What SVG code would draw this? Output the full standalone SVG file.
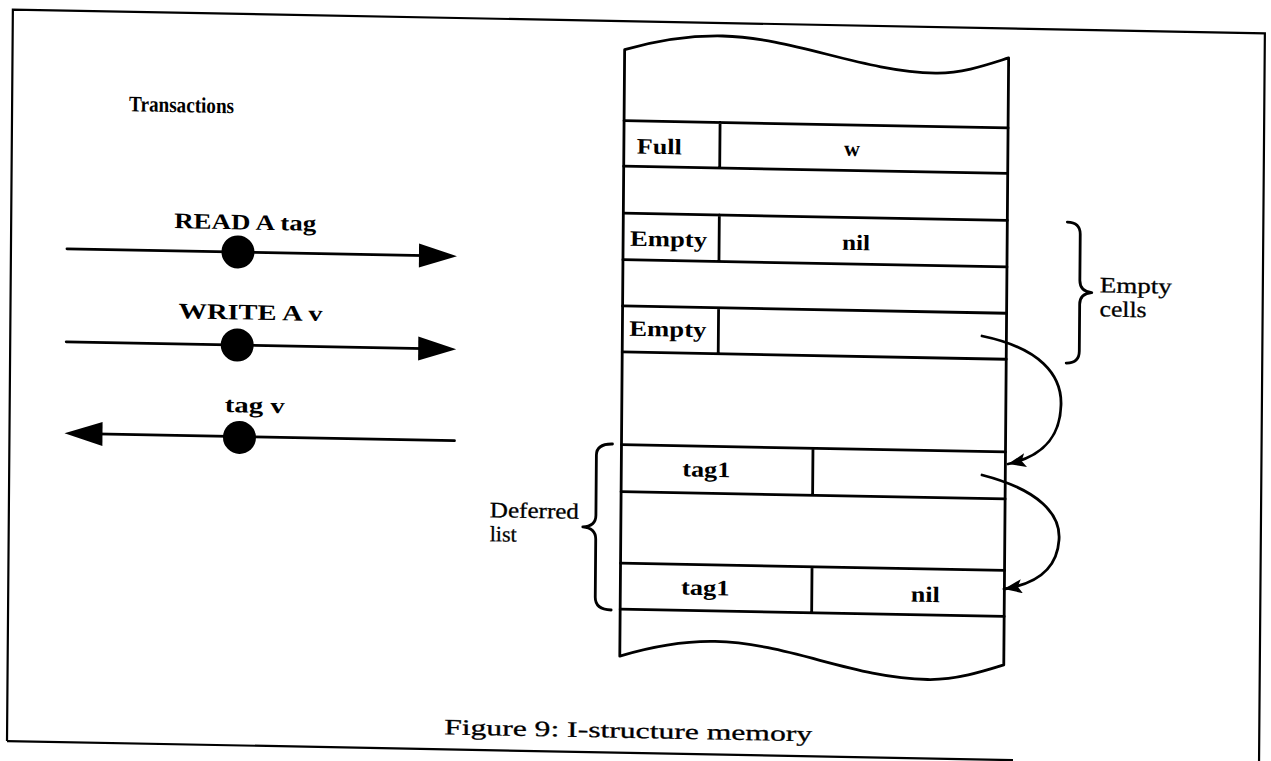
<svg xmlns="http://www.w3.org/2000/svg" width="1271" height="761" viewBox="0 0 1271 761">
<style>
.ln{stroke:#000;stroke-width:2.8;fill:none;stroke-linecap:round;stroke-linejoin:round}
.fr{stroke:#000;stroke-width:2.2;fill:none}
.tb{font-family:"Liberation Serif",serif;font-weight:bold;font-size:22px;fill:#000}
.tr{font-family:"Liberation Serif",serif;font-size:22px;fill:#000;stroke:#000;stroke-width:0.3}
.dot{fill:#000}
</style>
<defs>
<marker id="ah" markerUnits="userSpaceOnUse" markerWidth="20" markerHeight="16" refX="18" refY="7" orient="auto">
<path d="M0,0 L18,7 L0,14 L4,7 Z" fill="#000"/>
</marker>
</defs>
<rect width="1271" height="761" fill="#fff"/>
<g transform="translate(640 380) matrix(1 0.019 -0.008 1 0 0) translate(-640 -380)">
<g id="frame">
<path class="fr" d="M10,753 L10,21.5 L1262,21.5 L1262,780"/>
<path class="fr" d="M10,753 L1016,753"/>
</g>
<g id="title">
<text class="tb" x="127" y="121" font-size="17" textLength="105" lengthAdjust="spacingAndGlyphs">Transactions</text>
</g>
<g id="read">
<line class="ln" x1="66" y1="259.7" x2="425" y2="259.7"/>
<polygon points="418,247.7 456,259.7 418,271.7" fill="#000"/>
<circle class="dot" cx="237" cy="259.6" r="16.5"/>
<text class="tb" x="244" y="237" text-anchor="middle" textLength="142" lengthAdjust="spacingAndGlyphs">READ A tag</text>
</g>
<g id="write">
<line class="ln" x1="66" y1="352.7" x2="425" y2="352.7"/>
<polygon points="418,340.7 456,352.7 418,364.7" fill="#000"/>
<circle class="dot" cx="237" cy="352.7" r="16.5"/>
<text class="tb" x="250" y="327" text-anchor="middle" textLength="144" lengthAdjust="spacingAndGlyphs">WRITE A v</text>
</g>
<g id="reply">
<line class="ln" x1="96" y1="444.2" x2="455" y2="444.2"/>
<polygon points="103,432.2 65,444.2 103,456.2" fill="#000"/>
<circle class="dot" cx="240" cy="445" r="16.5"/>
<text class="tb" x="255" y="420" text-anchor="middle" textLength="60" lengthAdjust="spacingAndGlyphs">tag v</text>
</g>
<g id="memory">
<path class="ln" d="M622,656.5 L622,50 C655,40 690,34.5 720,34.5 C790,34.5 860,67.5 933,67.5 C960,67.5 985,58 1006,51 L1006,658 C985,665 958,674 930,674 C855,674 790,640 717,640 C685,640 655,646 622,656.5"/>
</g>
<g id="cell-full">
<path class="ln" d="M622,121 H1006 M622,166.5 H1006 M718,121 V166.5"/>
<text class="tb" x="635" y="153.6" textLength="45" lengthAdjust="spacingAndGlyphs">Full</text>
<text class="tb" x="850" y="152" text-anchor="middle">w</text>
</g>
<g id="cell-empty1">
<path class="ln" d="M622,213.5 H1006 M622,260 H1006 M718,213.5 V260"/>
<text class="tb" x="629" y="246" textLength="77" lengthAdjust="spacingAndGlyphs">Empty</text>
<text class="tb" x="855" y="246" text-anchor="middle" textLength="28" lengthAdjust="spacingAndGlyphs">nil</text>
</g>
<g id="cell-empty2">
<path class="ln" d="M622,306.3 H1006 M622,352.3 H1006 M718,306.3 V352.3"/>
<text class="tb" x="629" y="336" textLength="77" lengthAdjust="spacingAndGlyphs">Empty</text>
</g>
<g id="cell-tag1a">
<path class="ln" d="M622,445 H1006 M622,492 H1006 M813.5,445 V492"/>
<text class="tb" x="707" y="475.5" text-anchor="middle" textLength="48" lengthAdjust="spacingAndGlyphs">tag1</text>
</g>
<g id="cell-tag1b">
<path class="ln" d="M622,563.5 H1006 M622,609.5 H1006 M813.5,563.5 V609.5"/>
<text class="tb" x="707" y="593.7" text-anchor="middle" textLength="48.5" lengthAdjust="spacingAndGlyphs">tag1</text>
<text class="tb" x="927" y="596.3" text-anchor="middle" textLength="29" lengthAdjust="spacingAndGlyphs">nil</text>
</g>
<g id="brace-empty">
<path class="ln" d="M1066,214 Q1079,214 1079,226 L1079,272 Q1079,283 1091,284 Q1079,285 1079,296 L1079,343 Q1079,355 1066,355"/>
<text class="tr" x="1099" y="283.6" textLength="72" lengthAdjust="spacingAndGlyphs">Empty</text>
<text class="tr" x="1099" y="307.6" textLength="47" lengthAdjust="spacingAndGlyphs">cells</text>
</g>
<g id="brace-deferred">
<path class="ln" d="M613,444.5 Q597,444.5 597,456 L597,516 Q597,527 584,528 Q597,529 597,540 L597,598 Q597,610.5 613,610.5"/>
<text class="tr" x="491" y="520" textLength="89" lengthAdjust="spacingAndGlyphs">Deferred</text>
<text class="tr" x="491" y="544">list</text>
</g>
<g id="caption">
<text class="tr" x="447" y="738" font-size="29" textLength="368" lengthAdjust="spacingAndGlyphs">Figure 9: I-structure memory</text>
</g>
</g>
<g id="connectors">
<path class="ln" d="M982,336 C1040,348 1062,375 1061,405 C1060,440 1040,457 1008,464" marker-end="url(#ah)"/>
<path class="ln" d="M982,475 C1040,490 1061,515 1059,540 C1057,570 1036,584 1004,589" marker-end="url(#ah)"/>
</g>
</svg>
